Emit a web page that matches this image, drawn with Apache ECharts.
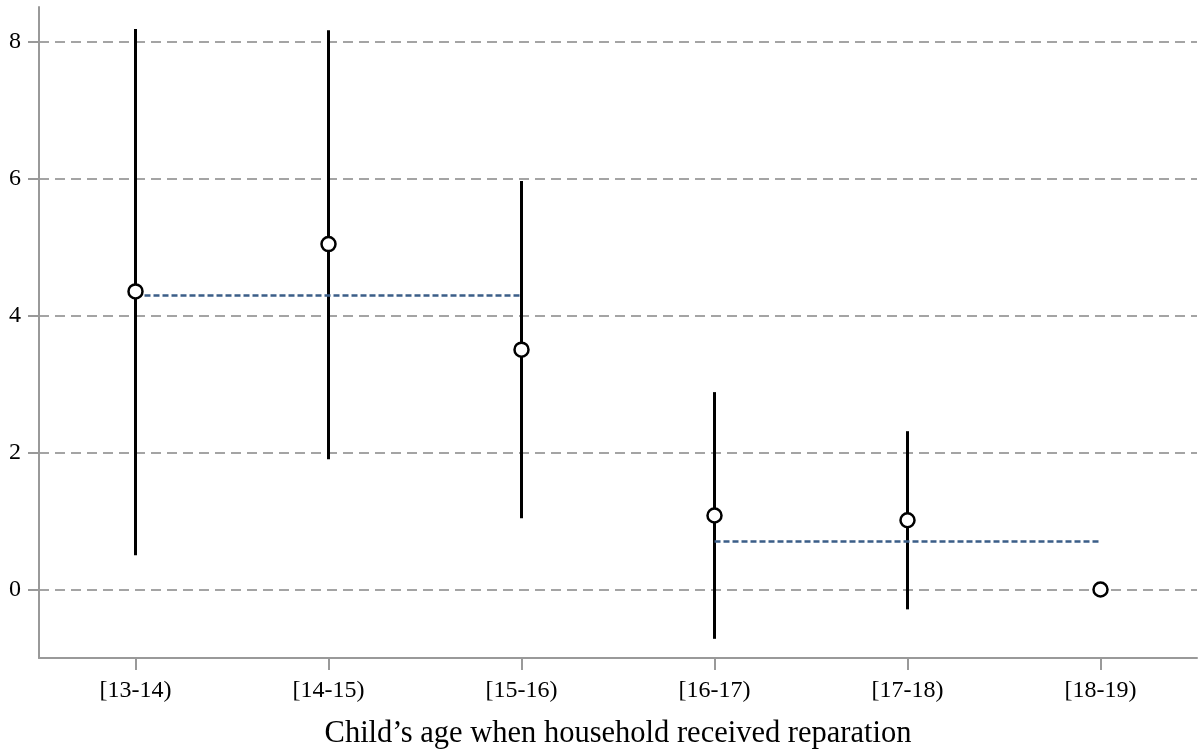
<!DOCTYPE html>
<html>
<head>
<meta charset="utf-8">
<script src="https://cdn.jsdelivr.net/npm/echarts@6/dist/echarts.min.js"></script>
<style>
    html, body { margin: 0; padding: 0; background: #fff; }
    #chart { width: 1201px; height: 751px; }
</style>
</head>
<body>
<div id="chart"></div>
<script>
    // data
    const categories = ['[13-14)', '[14-15)', '[15-16)', '[16-17)', '[17-18)', '[18-19)'];
    const estimates = [4.35, 5.04, 3.50, 1.08, 1.01, 0];
    const ciLow = [0.50, 1.90, 1.04, -0.72, -0.29, null];
    const ciHigh = [8.18, 8.16, 5.96, 2.88, 2.31, null];
    // group means (dashed blue): [start index, end index, value]
    const groupMeans = [
        [0, 2, 4.29],
        [3, 5, 0.70]
    ];
    const yTicks = [0, 2, 4, 6, 8];

    const serif = '"Liberation Serif", "DejaVu Serif", serif';

    const chartDom = document.getElementById('chart');
    const myChart = echarts.init(chartDom);

    let option = {
        animation: false,
        grid: {
            left: 39,
            right: 4,
            top: 7,
            bottom: 93,
            outerBoundsMode: 'none',
            containLabel: false
        },
        xAxis: {
            type: 'category',
            data: categories,
            boundaryGap: true,
            name: 'Child\u2019s age when household received reparation',
            nameLocation: 'middle',
            nameGap: 60,
            nameTextStyle: {
                fontFamily: serif,
                fontSize: 30.5,
                color: '#000'
            },
            axisLine: {
                onZero: false,
                lineStyle: { color: '#999', width: 2 }
            },
            axisTick: {
                show: true,
                alignWithLabel: true,
                length: 12,
                lineStyle: { color: '#999', width: 2 }
            },
            axisLabel: {
                fontFamily: serif,
                fontSize: 24,
                color: '#000',
                margin: 21
            },
            splitLine: { show: false }
        },
        yAxis: {
            type: 'value',
            min: -1,
            max: 8.5,
            axisLine: {
                show: true,
                onZero: false,
                lineStyle: { color: '#999', width: 2 }
            },
            axisTick: {
                show: true,
                inside: false,
                length: 11,
                customValues: yTicks,
                lineStyle: { color: '#999', width: 2 }
            },
            axisLabel: {
                fontFamily: serif,
                fontSize: 24,
                color: '#000',
                margin: 18,
                customValues: yTicks
            },
            splitLine: {
                show: true,
                lineStyle: { color: '#a4a4a4', width: 2, type: [10, 6] }
            }
        },
        series: [
            {
                type: 'custom',
                name: 'ci',
                z: 3,
                renderItem: function (params, api) {
                    const lo = api.value(1);
                    const hi = api.value(2);
                    if (lo == null || hi == null || isNaN(lo) || isNaN(hi)) {
                        return null;
                    }
                    const p1 = api.coord([api.value(0), lo]);
                    const p2 = api.coord([api.value(0), hi]);
                    return {
                        type: 'line',
                        shape: { x1: p1[0], y1: p1[1], x2: p2[0], y2: p2[1] },
                        style: { stroke: '#000', lineWidth: 3 }
                    };
                },
                encode: { x: 0, y: [1, 2] },
                data: categories.map((c, i) => [i, ciLow[i], ciHigh[i]])
            }
        ].concat(groupMeans.map(function (g) {
            return {
                type: 'line',
                z: 4,
                symbol: 'none',
                lineStyle: { color: '#3b5e88', width: 2.5, type: [6, 3] },
                data: [[g[0], g[2]], [g[1], g[2]]]
            };
        })).concat([
            {
                type: 'scatter',
                z: 5,
                symbol: 'circle',
                symbolSize: 14,
                itemStyle: {
                    color: '#fff',
                    borderColor: '#000',
                    borderWidth: 2.5,
                    opacity: 1
                },
                data: estimates.map((v, i) => [i, v])
            }
        ])
    };

    option && myChart.setOption(option);
</script>
</body>
</html>
